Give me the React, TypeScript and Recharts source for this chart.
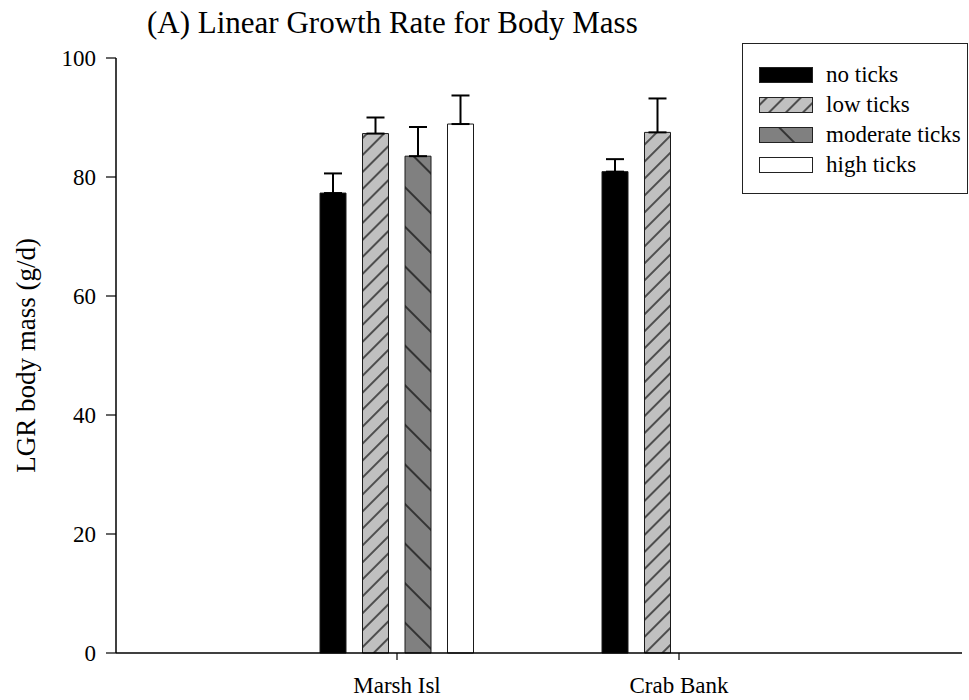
import React from 'react';
import { BarChart, Bar, XAxis, YAxis, ErrorBar, Legend } from 'recharts';

const categories = ['Marsh Isl', 'Crab Bank'];
const noTicks = [77.3, 80.9];
const noTicksErr = [3.3, 2.1];
const lowTicks = [87.3, 87.5];
const lowTicksErr = [2.7, 5.7];
const moderateTicks: (number | null)[] = [83.5, null];
const moderateTicksErr: (number | null)[] = [4.9, null];
const highTicks: (number | null)[] = [88.9, null];
const highTicksErr: (number | null)[] = [4.8, null];
const yTicks = [0, 20, 40, 60, 80, 100];
const seriesNames = ['no ticks', 'low ticks', 'moderate ticks', 'high ticks'];
const titleText = '(A) Linear Growth Rate for Body Mass';
const yLabelText = 'LGR body mass (g/d)';

const FONT = "'Liberation Serif', 'Times New Roman', serif";

const data = categories.map((c, i) => ({
  category: c,
  none: noTicks[i],
  noneErr: noTicksErr[i],
  low: lowTicks[i],
  lowErr: lowTicksErr[i],
  moderate: moderateTicks[i],
  moderateErr: moderateTicksErr[i],
  high: highTicks[i],
  highErr: highTicksErr[i],
}));

const series = [
  { key: 'none', err: 'noneErr', name: seriesNames[0], fill: '#000000' },
  { key: 'low', err: 'lowErr', name: seriesNames[1], fill: 'url(#hatchLow)' },
  { key: 'moderate', err: 'moderateErr', name: seriesNames[2], fill: 'url(#hatchMod)' },
  { key: 'high', err: 'highErr', name: seriesNames[3], fill: '#ffffff' },
];

const renderLegend = () => (
  <div
    style={{
      width: 224,
      height: 149,
      border: '1px solid #222',
      background: '#fff',
      position: 'relative',
      fontFamily: FONT,
      boxSizing: 'content-box',
    }}
  >
    {series.map((s, i) => (
      <div
        key={s.key}
        style={{
          position: 'absolute',
          left: 16,
          top: 23 + i * 30,
          height: 16,
          display: 'flex',
          alignItems: 'center',
          whiteSpace: 'nowrap',
        }}
      >
        <svg width={54} height={16} style={{ display: 'block' }}>
          <rect x={0.5} y={0.5} width={53} height={15} fill={s.fill} stroke="#222" strokeWidth={1} />
        </svg>
        <span style={{ marginLeft: 13, fontSize: 23, lineHeight: '16px', color: '#000' }}>{s.name}</span>
      </div>
    ))}
  </div>
);

export default function App() {
  return (
    <div style={{ position: 'absolute', left: 0, top: 0, width: 969, height: 700, background: '#fff' }}>
      <BarChart
        width={969}
        height={700}
        data={data}
        margin={{ top: 58, right: 7, bottom: 0, left: 0 }}
        barSize={26}
        barGap={16.5}
      >
        <defs>
          <pattern id="hatchLow" patternUnits="userSpaceOnUse" width={12} height={12} patternTransform="rotate(45)">
            <rect x={0} y={0} width={12} height={12} fill="#c0c0c0" />
            <line x1={6} y1={0} x2={6} y2={12} stroke="#000" strokeWidth={1.2} />
          </pattern>
          <pattern id="hatchMod" patternUnits="userSpaceOnUse" width={28} height={28} patternTransform="rotate(-45)">
            <rect x={0} y={0} width={28} height={28} fill="#808080" />
            <line x1={14} y1={0} x2={14} y2={28} stroke="#000" strokeWidth={1.2} />
          </pattern>
        </defs>
        <text x={147} y={33} fontFamily={FONT} fontSize={31} fill="#000">
          {titleText}
        </text>
        <text
          x={35}
          y={355.5}
          transform="rotate(-90 35 355.5)"
          textAnchor="middle"
          fontFamily={FONT}
          fontSize={27}
          fill="#000"
        >
          {yLabelText}
        </text>
        <XAxis
          dataKey="category"
          height={47}
          padding={{ left: 140, right: 142 }}
          tickSize={7}
          tickMargin={17}
          axisLine={{ stroke: '#000', strokeWidth: 1.5 }}
          tickLine={{ stroke: '#000', strokeWidth: 1.2 }}
          tick={{ fill: '#000', fontSize: 23, fontFamily: FONT }}
        />
        <YAxis
          domain={[0, 100]}
          ticks={yTicks}
          width={116}
          tickSize={10}
          tickMargin={10}
          axisLine={{ stroke: '#000', strokeWidth: 1.5 }}
          tickLine={{ stroke: '#000', strokeWidth: 1.2 }}
          tick={{ fill: '#000', fontSize: 23, fontFamily: FONT }}
        />
        <Legend
          layout="vertical"
          align="center"
          verticalAlign="middle"
          content={renderLegend}
          wrapperStyle={{ left: 742, top: 43, width: 'auto', height: 'auto' }}
        />
        {series.map((s) => (
          <Bar
            key={s.key}
            dataKey={s.key}
            name={s.name}
            fill={s.fill}
            stroke="#1a1a1a"
            strokeWidth={1}
            isAnimationActive={false}
          >
            <ErrorBar
              dataKey={(d: any) => (d[s.err] == null ? null : [0, d[s.err]])}
              direction="y"
              width={9}
              stroke="#000"
              strokeWidth={2}
              isAnimationActive={false}
            />
          </Bar>
        ))}
      </BarChart>
    </div>
  );
}
